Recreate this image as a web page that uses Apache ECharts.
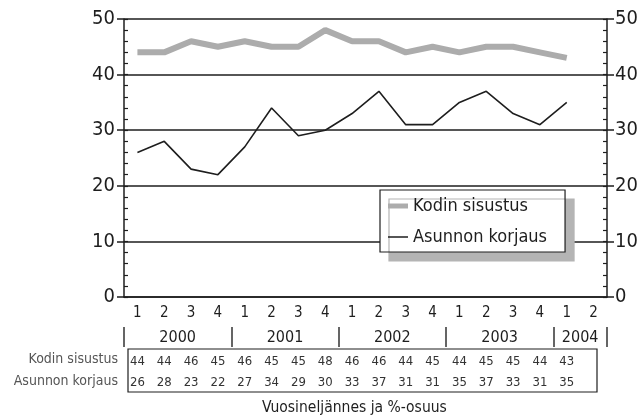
<!DOCTYPE html>
<html>
<head>
<meta charset="utf-8">
<script src="https://cdn.jsdelivr.net/npm/echarts@6/dist/echarts.min.js"></script>
<style>
    html, body { margin: 0; padding: 0; background: #fff; }
    #main { width: 644px; height: 415px; }
</style>
</head>
<body>
<div id="main"></div>
<script>
    // data
    const years = ['2000', '2001', '2002', '2003', '2004'];
    const quartersPerYear = [4, 4, 4, 4, 2];
    const quarterLabels = ['1', '2', '3', '4', '1', '2', '3', '4', '1', '2', '3', '4', '1', '2', '3', '4', '1', '2'];
    const rowNames = ['Kodin sisustus', 'Asunnon korjaus'];
    const kodinSisustus = [44, 44, 46, 45, 46, 45, 45, 48, 46, 46, 44, 45, 44, 45, 45, 44, 43];
    const asunnonKorjaus = [26, 28, 23, 22, 27, 34, 29, 30, 33, 37, 31, 31, 35, 37, 33, 31, 35];
    const axisName = 'Vuosineljännes ja %-osuus';

    const categories = [];
    years.forEach((y, i) => {
        for (let q = 1; q <= quartersPerYear[i]; q++) categories.push(y + '/' + q);
    });
    // year separators and year label positions on a 0..n value scale
    const yearBounds = [0];
    quartersPerYear.forEach(n => yearBounds.push(yearBounds[yearBounds.length - 1] + n));
    const yearCenters = years.map((y, i) => (yearBounds[i] + yearBounds[i + 1]) / 2);

    const FONT = "'Liberation Sans Narrow', 'DejaVu Sans Condensed', 'Roboto', sans-serif";
    const INK = '#1e1e1e';
    const GREY = '#acacac';

    const chart = echarts.init(document.getElementById('main'));

    const majorY = (pos, margin, split) => ({
        type: 'value', gridIndex: 0, position: pos, min: 0, max: 50, interval: 10,
        axisLine: { show: true, lineStyle: { color: INK, width: 1.5 } },
        axisTick: { show: true, length: 7, lineStyle: { color: INK, width: 1.5 } },
        axisLabel: { fontSize: 20, color: INK, margin: margin, fontFamily: FONT },
        splitLine: { show: split, lineStyle: { color: INK, width: 1.5 } }
    });
    const minorY = (pos) => ({
        type: 'value', gridIndex: 0, position: pos, min: 0, max: 50, interval: 2,
        axisLine: { show: false },
        axisTick: { show: true, inside: true, length: 4, lineStyle: { color: INK, width: 1.2 } },
        axisLabel: { show: false },
        splitLine: { show: false }
    });
    const tableRow = (values, offset) => ({
        type: 'category', gridIndex: 0, position: 'bottom', offset: offset,
        data: categories,
        axisLine: { show: false }, axisTick: { show: false }, splitLine: { show: false },
        axisLabel: {
            interval: 0, margin: 2, fontSize: 13, color: '#333', fontFamily: FONT,
            formatter: (v, i) => values[i] === undefined ? '' : String(values[i])
        }
    });

    const option = {
        animation: false,
        textStyle: { fontFamily: FONT },
        title: {
            text: axisName, left: 257, top: 395,
            textStyle: { fontSize: 15.5, fontWeight: 'normal', color: INK, fontFamily: FONT }
        },
        legend: {
            orient: 'vertical', left: 380, top: 190,
            padding: [7, 18, 6, 8], itemGap: 13, itemWidth: 20, itemHeight: 14,
            backgroundColor: '#fff', borderColor: INK, borderWidth: 1.2,
            shadowColor: '#b4b4b4', shadowBlur: 0, shadowOffsetX: 9, shadowOffsetY: 9,
            textStyle: { fontSize: 18, color: INK, fontFamily: FONT },
            data: [
                { name: rowNames[0], icon: 'path://M0,0H20V5H0Z' },
                { name: rowNames[1], icon: 'path://M0,0H20V1.5H0Z' }
            ]
        },
        grid: [
            { left: 124, right: 37, top: 19, bottom: 118 },
            { left: 128, right: 47, top: 349, height: 43, show: true, borderColor: INK, borderWidth: 1.2, backgroundColor: 'transparent' },
            { left: 124, right: 37, top: 300, height: 27 }
        ],
        xAxis: [
            {
                type: 'category', gridIndex: 0, data: categories, boundaryGap: true,
                axisLine: { lineStyle: { color: INK, width: 1.5 } },
                axisTick: { show: false },
                axisLabel: { interval: 0, margin: 9, fontSize: 15, color: INK, fontFamily: FONT, formatter: (v, i) => quarterLabels[i] },
                splitLine: { show: false }
            },
            tableRow(kodinSisustus, 56),
            tableRow(asunnonKorjaus, 77),
            { type: 'category', gridIndex: 1, data: categories, show: false },
            {
                type: 'value', gridIndex: 2, position: 'bottom', min: 0, max: categories.length,
                axisLine: { show: false },
                axisTick: { show: true, customValues: yearBounds, length: 20, lineStyle: { color: '#333', width: 1.5 } },
                axisLabel: { customValues: yearCenters, margin: 3, fontSize: 16, color: INK, fontFamily: FONT, formatter: v => years[yearCenters.indexOf(v)] || '' },
                splitLine: { show: false }
            }
        ],
        yAxis: [
            majorY('left', 9, true),
            majorY('right', 8, false),
            minorY('left'),
            minorY('right'),
            {
                type: 'category', gridIndex: 1, data: rowNames, inverse: true,
                axisLine: { show: false }, axisTick: { show: false }, splitLine: { show: false },
                axisLabel: { margin: 10, fontSize: 14, color: '#555', fontFamily: FONT }
            },
            { type: 'value', gridIndex: 2, show: false }
        ],
        series: [
            {
                name: rowNames[0], type: 'line', xAxisIndex: 0, yAxisIndex: 0,
                data: kodinSisustus, symbol: 'none', z: 3,
                itemStyle: { color: GREY },
                lineStyle: { width: 6, color: GREY }
            },
            {
                name: rowNames[1], type: 'line', xAxisIndex: 0, yAxisIndex: 0,
                data: asunnonKorjaus, symbol: 'none', z: 4,
                itemStyle: { color: INK },
                lineStyle: { width: 1.6, color: INK }
            }
        ]
    };

    chart.setOption(option);
</script>
</body>
</html>
